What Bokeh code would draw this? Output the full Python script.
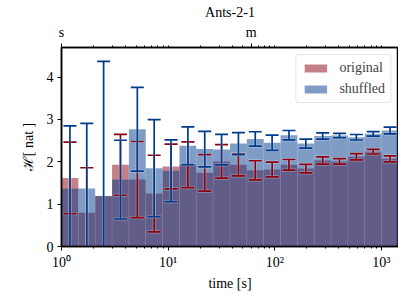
import numpy as np
from bokeh.plotting import figure
from bokeh.models import LogAxis, FixedTicker, Range1d, ColumnDataSource
from bokeh.embed import file_html
from bokeh.resources import INLINE

# bin edges (seconds, log-spaced bins)
bin_edges = [1.0, 1.439, 2.070, 2.979, 4.286, 6.166, 8.872, 12.77, 18.37, 26.42,
             38.02, 54.70, 78.70, 113.2, 162.9, 234.4, 337.3, 485.3, 698.2,
             1004.6, 1445.4]

original = [1.62, 0.80, 1.19, 1.93, 1.58, 1.25, 1.89, 1.93, 1.74, 2.01,
            1.93, 1.80, 1.82, 1.93, 1.84, 2.03, 2.01, 2.12, 2.24, 2.07]
original_err = [0.845, 1.06, float("nan"), 0.72, 0.90, 0.905, 0.53, 0.54, 0.43, 0.395,
                0.26, 0.225, 0.175, 0.125, 0.10, 0.085, 0.065, 0.075, 0.055, 0.07]

shuffled = [1.37, 1.37, 1.19, 1.58, 2.77, 1.85, 1.79, 2.38, 2.30, 2.29,
            2.43, 2.54, 2.45, 2.63, 2.43, 2.61, 2.62, 2.58, 2.66, 2.74]
shuffled_err = [1.48, 1.54, 3.18, 0.93, 0.99, 1.145, 0.73, 0.445, 0.42, 0.36,
                0.26, 0.17, 0.18, 0.11, 0.105, 0.075, 0.05, 0.065, 0.055, 0.08]

y_ticks = [0, 1, 2, 3, 4]
x_major = [1, 10, 100, 1000]
x_labels = {1: "10⁰", 10: "10¹", 100: "10²", 1000: "10³"}
top_major = [1, 60]
top_labels = {1: "s", 60: "m"}

RED = "#8c000f"
BLUE = "#003a8c"
FONT = "Liberation Serif"
FS = "14px"

lo = np.array(bin_edges[:-1])
hi = np.array(bin_edges[1:])
centers = np.sqrt(lo * hi)

minor = [m * 10 ** k for k in range(0, 4) for m in range(2, 10)]

p = figure(width=398, height=300, x_axis_type="log",
           x_range=Range1d(bin_edges[0], bin_edges[-1]), y_range=Range1d(0, 4.7),
           output_backend="svg", toolbar_location=None, title="Ants-2-1",
           min_border_left=61, min_border_right=0, min_border_top=45, min_border_bottom=54)

p.title.align = "center"
p.title.text_font = FONT
p.title.text_font_size = FS
p.title.text_font_style = "normal"
p.title.text_color = "black"
p.title.text_line_height = 0.9
p.title.standoff = 4

p.xgrid.visible = False
p.ygrid.visible = False
p.outline_line_color = "black"
p.outline_line_width = 1.5

# bars
src_o = ColumnDataSource(dict(left=lo, right=hi, top=original))
src_s = ColumnDataSource(dict(left=lo, right=hi, top=shuffled))
p.quad(left="left", right="right", bottom=0, top="top", source=src_o,
       fill_color=RED, fill_alpha=0.5, line_color="white", line_alpha=0.06,
       legend_label="original")
p.quad(left="left", right="right", bottom=0, top="top", source=src_s,
       fill_color=BLUE, fill_alpha=0.5, line_color="white", line_alpha=0.06,
       legend_label="shuffled")

def errorbars(vals, errs, color):
    v = np.array(vals)
    e = np.array(errs)
    lower = v - e
    upper = v + e
    for lw, col, alpha, sz in [(3.2, "white", 0.3, 14), (1.7, color, 1.0, 13)]:
        p.segment(x0=centers, y0=lower, x1=centers, y1=upper,
                  line_color=col, line_width=lw, line_alpha=alpha)
        p.scatter(x=np.concatenate([centers, centers]), y=np.concatenate([lower, upper]),
                  marker="dash", size=sz, line_color=col, line_width=lw, line_alpha=alpha)

errorbars(original, original_err, RED)
errorbars(shuffled, shuffled_err, BLUE)

# bottom axis
xa = p.xaxis[0]
xa.ticker = FixedTicker(ticks=x_major, minor_ticks=minor)
xa.major_label_overrides = x_labels
xa.axis_label = "time [s]"

# left axis
ya = p.yaxis[0]
ya.ticker = FixedTicker(ticks=y_ticks)
ya.axis_label = "ℋ[ nat ]"

# top axis
ta = LogAxis(ticker=FixedTicker(ticks=top_major,
                                minor_ticks=[t for t in minor + [10, 100, 1000] if t != 60]),
             major_label_overrides=top_labels)
p.add_layout(ta, "above")

for ax in [xa, ya, ta]:
    ax.axis_line_width = 1.5
    ax.axis_line_color = "black"
    ax.major_tick_line_color = "black"
    ax.minor_tick_line_color = "black"
    ax.major_tick_in = 0
    ax.major_tick_out = 4
    ax.minor_tick_in = 0
    ax.minor_tick_out = 2
    ax.major_label_text_font = FONT
    ax.major_label_text_font_size = FS
    ax.major_label_text_color = "black"
    ax.axis_label_text_font = FONT
    ax.axis_label_text_font_size = FS
    ax.axis_label_text_font_style = "normal"
    ax.axis_label_text_color = "black"
    ax.major_label_standoff = 4
ya.minor_tick_out = 0
ta.major_label_standoff = 4
xa.axis_label_standoff = 3
ya.axis_label_standoff = 8

lg = p.legend[0]
lg.location = "top_right"
lg.glyph_width = 28
lg.glyph_height = 10
lg.label_height = 14
lg.label_text_font = FONT
lg.label_text_font_size = FS
lg.label_standoff = 10
lg.border_line_color = "#cccccc"
lg.border_line_width = 1
lg.background_fill_alpha = 0.8
lg.margin = 7
lg.padding = 5
lg.spacing = 5
lg.border_radius = 3

open("out.html", "w").write(file_html(p, INLINE))
